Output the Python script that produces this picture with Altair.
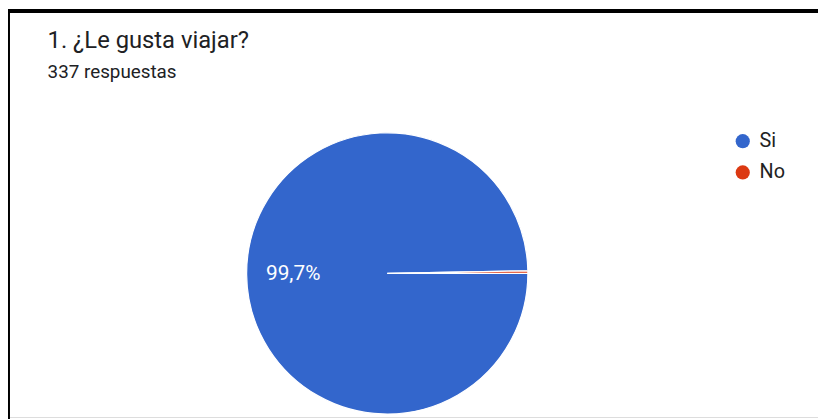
import math
import altair as alt
import pandas as pd

categories = ["Si", "No"]
counts = [336, 1]
colors = ["#3366CC", "#DC3912"]
title_text = ["1. ¿Le gusta viajar?"]
subtitle_text = ["337 respuestas"]

total = sum(counts)
labels = []
for c in counts:
    p = c / total * 100
    labels.append(f"{p:.1f}".replace(".", ",") + "%" if p > 5 else "")

df = pd.DataFrame({"cat": categories, "n": counts, "label": labels, "ord": list(range(len(categories)))})

W, H = 818, 411
CX, CY = 391 - 8, 274 - 8
R = 142

theta_scale = alt.Scale(range=[math.pi / 2, math.pi / 2 + 2 * math.pi])

base = alt.Chart(df).encode(
    theta=alt.Theta("n:Q", stack=True, scale=theta_scale),
    order=alt.Order("ord:Q"),
    x=alt.value(CX),
    y=alt.value(CY),
)

arcs = base.mark_arc(outerRadius=R, stroke="white", strokeWidth=1.2).encode(
    color=alt.Color(
        "cat:N",
        scale=alt.Scale(domain=categories, range=colors),
        sort=categories,
        legend=alt.Legend(
            orient="none",
            legendX=740 - 8,
            legendY=130.5 - 8,
            title=None,
            symbolType="circle",
            symbolSize=205,
            symbolStrokeWidth=0,
            labelFontSize=20,
            labelFont="Roboto",
            labelColor="#222222",
            labelOffset=7,
            rowPadding=11.5,
            padding=0,
        ),
    )
)

text = base.mark_text(radius=95, fontSize=21, font="Roboto", color="white").encode(
    text="label:N"
)

title = alt.Chart(pd.DataFrame({"t": title_text})).mark_text(
    align="left", baseline="alphabetic", font="Roboto", fontSize=24, color="#202124"
).encode(text="t:N", x=alt.value(40), y=alt.value(46 - 8))

subtitle = alt.Chart(pd.DataFrame({"t": subtitle_text})).mark_text(
    align="left", baseline="alphabetic", font="Roboto", fontSize=19, color="#202124"
).encode(text="t:N", x=alt.value(40), y=alt.value(77 - 8))

frame_top = alt.Chart(pd.DataFrame({"t": [0]})).mark_rule(color="black", strokeWidth=4).encode(
    x=alt.value(-3), x2=alt.value(W + 5), y=alt.value(1)
)
frame_left = alt.Chart(pd.DataFrame({"t": [0]})).mark_rule(color="black", strokeWidth=5).encode(
    x=alt.value(-0.5), y=alt.value(-1), y2=alt.value(H + 5)
)

chart = (
    alt.layer(arcs, text, title, subtitle, frame_top, frame_left)
    .properties(
        width=W,
        height=H,
        padding=0,
        autosize=alt.AutoSizeParams(type="none"),
    )
    .configure_view(strokeWidth=0)
    .configure(background="white")
)

chart.save("out.html", embed_options={"renderer": "svg", "actions": False})
